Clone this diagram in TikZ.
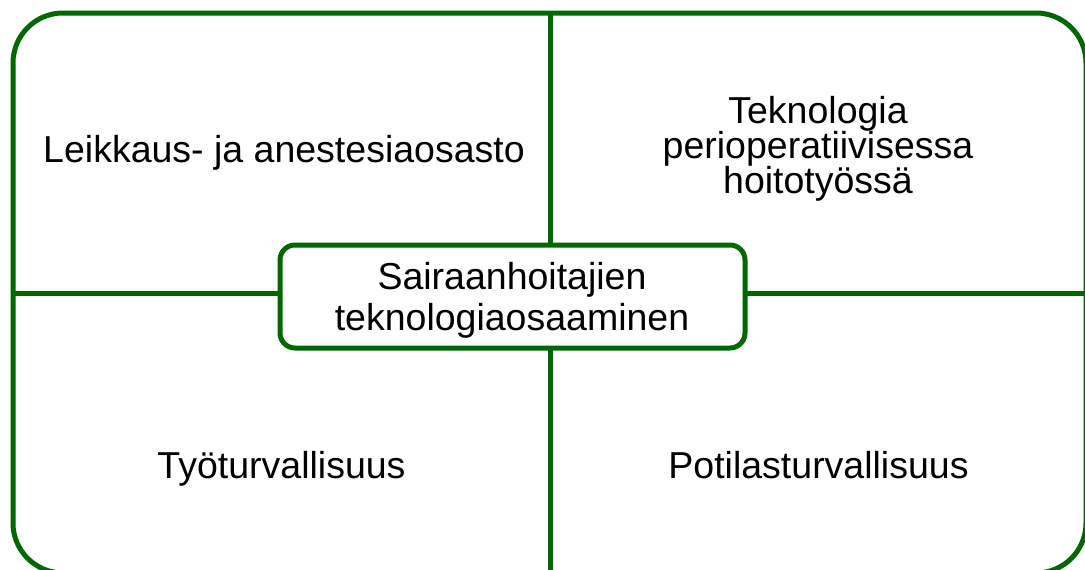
\documentclass[tikz,border=0pt]{standalone}
\usepackage{fontspec}
\setmainfont{Liberation Sans}
\definecolor{frame}{RGB}{0,102,0}
\begin{document}
\begin{tikzpicture}[x=1pt,y=-1pt,
  line/.style={draw=frame,line width=5pt},
  label/.style={font=\fontsize{37.5}{35}\selectfont,align=center,text=black,inner sep=0pt}]
\useasboundingbox (0,0) rectangle (1085,570);
\begin{scope}
\clip (0,0) rectangle (1085,570);
% outer rounded frame, partly running off the page
\draw[line,rounded corners=50pt] (13,13) rectangle (1086,573);
% dividing cross
\coordinate (top) at (550,13);
\coordinate (bot) at (550,575);
\coordinate (lft) at (13,293);
\coordinate (rgt) at (1090,293);
\draw[line] (top) -- (bot);
\draw[line] (lft) -- (rgt);
\end{scope}
% central box
\node[line,fill=white,rounded corners=15pt,minimum width=465pt,minimum height=103pt,inner sep=0pt]
  (core) at (512.5,296.5) {};
\node[label,font=\fontsize{37.5}{40.5}\selectfont] (coretext) at (512,300.5)
  {Sairaanhoitajien\\teknologiaosaaminen};
% quadrant labels
\node[label,anchor=base] (q1) at (284,162) {Leikkaus- ja anestesiaosasto};
\node[label] (q2) at (818,149) {Teknologia\\perioperatiivisessa\\hoitotyössä};
\node[label,anchor=base] (q3) at (281.5,478) {Työturvallisuus};
\node[label,anchor=base] (q4) at (818.5,478) {Potilasturvallisuus};
\end{tikzpicture}
\end{document}
